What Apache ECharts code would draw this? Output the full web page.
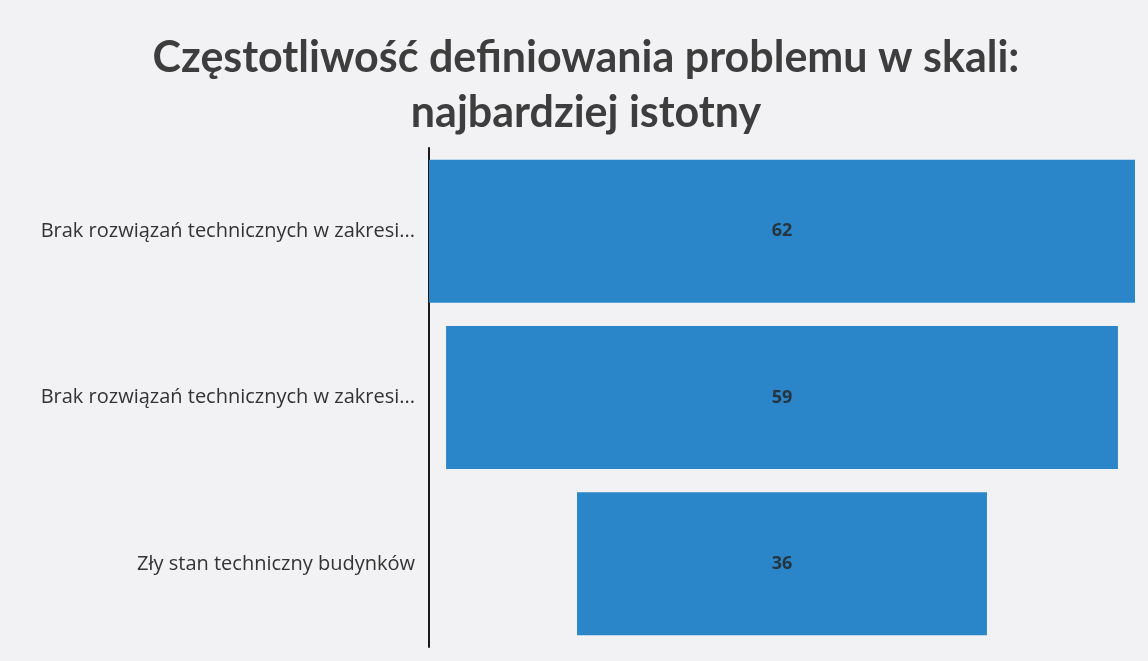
<!DOCTYPE html>
<html>
<head>
<meta charset="utf-8">
<script src="https://cdn.jsdelivr.net/npm/echarts@6/dist/echarts.min.js"></script>
<style>
  html, body { margin: 0; padding: 0; background: #f2f2f4; }
  #chart { width: 1148px; height: 661px; }
</style>
</head>
<body>
<div id="chart"></div>
<script>
// dane
var categories = [
    'Brak rozwiązań technicznych w zakresi...',
    'Brak rozwiązań technicznych w zakresi...',
    'Zły stan techniczny budynków'
];
var values = [62, 59, 36];
var maxValue = 62;

// przesunięcie, żeby słupki były wyśrodkowane
var offsets = values.map(function (v) { return (maxValue - v) / 2; });

var myChart = echarts.init(document.getElementById('chart'));

var option = {
    backgroundColor: '#f2f2f4',
    title: {
        text: 'Częstotliwość definiowania problemu w skali:\nnajbardziej istotny',
        left: 581,
        textAlign: 'center',
        top: 26,
        textStyle: {
            fontFamily: 'Lato',
            fontSize: 43,
            fontWeight: 'bold',
            color: '#3d3d3d',
            lineHeight: 55
        }
    },
    grid: {
        left: 429,
        right: 13,
        top: 148,
        bottom: 14
    },
    xAxis: {
        type: 'value',
        min: 0,
        max: maxValue,
        show: false
    },
    yAxis: {
        type: 'category',
        inverse: true,
        data: categories,
        axisLine: { show: true, lineStyle: { color: '#1a1a1a', width: 2 } },
        axisTick: { show: false },
        axisLabel: {
            margin: 14,
            fontFamily: 'Open Sans',
            fontSize: 20,
            color: '#333333'
        }
    },
    series: [
        {
            name: 'offset',
            type: 'bar',
            stack: 'a',
            data: offsets,
            itemStyle: { color: 'transparent' },
            silent: true,
            barCategoryGap: '14%'
        },
        {
            name: 'wartość',
            type: 'bar',
            stack: 'a',
            data: values,
            barCategoryGap: '14%',
            itemStyle: { color: '#2a86c8' },
            label: {
                show: true,
                position: 'inside',
                fontFamily: 'Open Sans',
                fontSize: 18,
                fontWeight: 'bold',
                color: '#26343f'
            }
        }
    ]
};

myChart.setOption(option);
</script>
</body>
</html>
